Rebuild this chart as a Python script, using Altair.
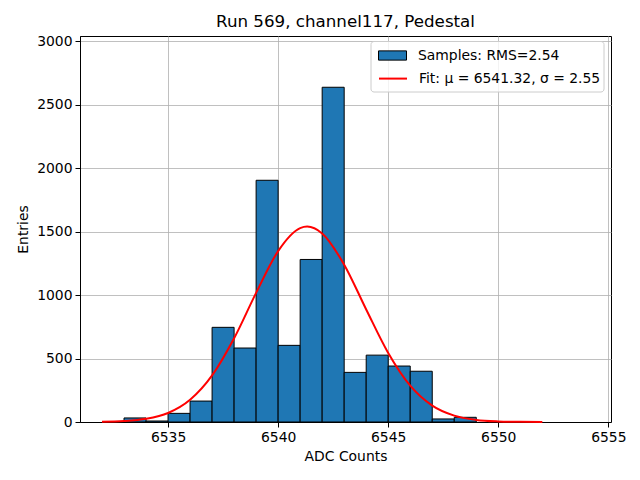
import altair as alt
import pandas as pd

# Histogram bins (ADC counts) and entries
bin_start = [6533, 6534, 6535, 6536, 6537, 6538, 6539, 6540, 6541, 6542, 6543, 6544, 6545, 6546, 6547, 6548]
bin_end = [6534, 6535, 6536, 6537, 6538, 6539, 6540, 6541, 6542, 6543, 6544, 6545, 6546, 6547, 6548, 6549]
counts = [32, 8, 68, 165, 746, 583, 1905, 604, 1281, 2638, 391, 527, 441, 400, 24, 37]

# Fit curve
fit_x = [6532, 6533, 6534, 6535, 6536, 6537, 6538, 6539, 6540, 6541, 6541.32, 6542, 6543,
         6544, 6545, 6546, 6547, 6548, 6549, 6550, 6551, 6552]
fit_y = [2, 7.5, 25, 71, 175, 367, 660, 1018, 1347, 1528, 1540, 1486, 1240,
         887, 544, 286, 129, 50, 16.5, 4.7, 1.1, 0.3]

x_ticks = [6535, 6540, 6545, 6550, 6555]
y_ticks = [0, 500, 1000, 1500, 2000, 2500, 3000]

hist_label = "Samples: RMS=2.54"
fit_label = "Fit: \u03bc = 6541.32, \u03c3 = 2.55"

hist_df = pd.DataFrame({"start": bin_start, "end": bin_end, "count": counts, "series": hist_label})
fit_df = pd.DataFrame({"x": fit_x, "y": fit_y, "series": fit_label})

FONT = "DejaVu Sans"
FS = 13.9

xs = alt.Scale(domain=[6531, 6555.12], nice=False, zero=False)
ys = alt.Scale(domain=[0, 3042], nice=False)

x_axis = alt.Axis(title="ADC Counts", values=x_ticks, format="d", grid=True)
y_axis = alt.Axis(title="Entries", values=y_ticks, format="d", grid=True)

bars = alt.Chart(hist_df).mark_rect(stroke="black", strokeWidth=1).encode(
    x=alt.X("start:Q", scale=xs, axis=x_axis),
    x2="end:Q",
    y=alt.Y("count:Q", scale=ys, axis=y_axis),
    y2=alt.datum(0),
    fill=alt.Fill("series:N", scale=alt.Scale(range=["#1f77b4"]),
                  legend=alt.Legend(title=None, orient="none", legendX=298, legendY=5,
                                    symbolType="M-1,-0.33H1V0.33H-1Z", symbolSize=784,
                                    symbolStrokeColor="black", symbolStrokeWidth=1,
                                    symbolFillColor="#1f77b4",
                                    labelFont=FONT, labelFontSize=FS, labelOffset=11,
                                    labelLimit=0, labelColor="black", padding=0)),
)

line = alt.Chart(fit_df).mark_line(strokeWidth=2, interpolate="monotone").encode(
    x=alt.X("x:Q", scale=xs),
    y=alt.Y("y:Q", scale=ys),
    stroke=alt.Stroke("series:N", scale=alt.Scale(range=["red"]),
                      legend=alt.Legend(title=None, orient="none", legendX=298, legendY=27.6,
                                        symbolType="stroke", symbolSize=784,
                                        symbolStrokeWidth=2,
                                        labelFont=FONT, labelFontSize=FS, labelOffset=11,
                                        labelLimit=0, labelColor="black", padding=0)),
)

frame = alt.Chart(pd.DataFrame({"a": [0]})).mark_rect(
    fill="white", fillOpacity=0.8, stroke="#cccccc", strokeWidth=1, cornerRadius=3
).encode(x=alt.value(291), x2=alt.value(524), y=alt.value(5.5), y2=alt.value(56))

chart = alt.layer(bars, line, frame).resolve_scale(fill="independent", stroke="independent").properties(
    width=531,
    height=386,
    title=alt.TitleParams("Run 569, channel117, Pedestal", font=FONT, fontSize=16.7,
                          fontWeight="normal", color="black", anchor="middle", offset=4),
    autosize=alt.AutoSizeParams(type="none"),
    padding={"left": 72, "top": 28, "right": 20, "bottom": 50},
).configure_view(stroke="black", strokeWidth=1).configure_axis(
    gridColor="#b0b0b0", gridWidth=0.8, domainColor="black", tickColor="black",
    tickSize=5, labelFont=FONT, labelFontSize=FS, labelColor="black",
    titleFont=FONT, titleFontSize=FS, titleFontWeight="normal", titleColor="black",
    labelPadding=3, titlePadding=6
)

chart.save("out.html", embed_options={"renderer": "svg", "actions": False})
